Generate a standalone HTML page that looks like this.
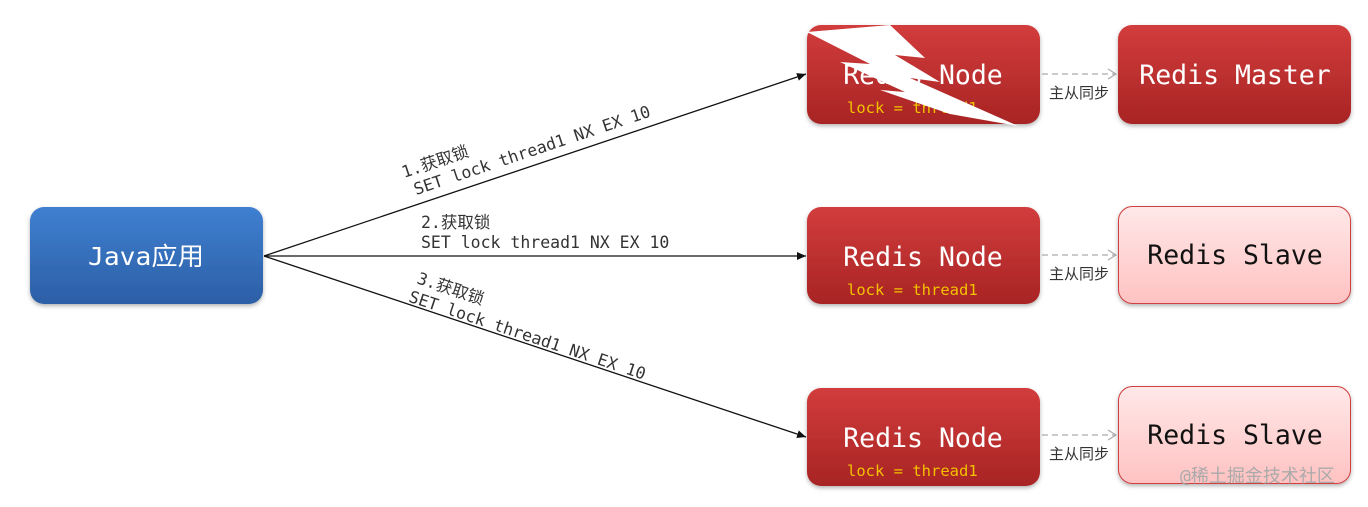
<!DOCTYPE html>
<html><head><meta charset="utf-8"><style>
body{margin:0;background:#fff;width:1368px;height:502px;overflow:hidden}
svg text{font-family:"DejaVu Sans Mono","Liberation Mono","Noto Sans CJK SC",monospace}
</style></head><body>
<svg width="1368" height="502" viewBox="0 0 1368 502" xmlns="http://www.w3.org/2000/svg">
<defs>
<linearGradient id="b" x1="0" y1="0" x2="0" y2="1"><stop offset="0" stop-color="#3f7fd0"/><stop offset="1" stop-color="#2c5fa6"/></linearGradient>
<linearGradient id="r" x1="0" y1="0" x2="0" y2="1"><stop offset="0" stop-color="#d23c3c"/><stop offset="1" stop-color="#a82424"/></linearGradient>
<linearGradient id="p" x1="0" y1="0" x2="0" y2="1"><stop offset="0" stop-color="#ffe8e8"/><stop offset="1" stop-color="#ffc2c2"/></linearGradient>
<filter id="s" x="-10%" y="-10%" width="120%" height="130%"><feDropShadow dx="0" dy="2" stdDeviation="2" flood-opacity="0.3"/></filter>
<marker id="a" markerWidth="10" markerHeight="10" refX="9" refY="5" orient="auto" markerUnits="userSpaceOnUse"><path d="M0,1 L9,5 L0,9 z" fill="#111"/></marker>
<marker id="o" markerWidth="12" markerHeight="12" refX="10" refY="6" orient="auto" markerUnits="userSpaceOnUse"><path d="M2,1 L10,6 L2,11" fill="none" stroke="#aaa" stroke-width="1.2"/></marker>
</defs>
<rect x="30" y="207" width="233" height="97" rx="14" fill="url(#b)" filter="url(#s)"/>
<text x="146" y="265" text-anchor="middle" font-size="25" fill="#fff" textLength="116" lengthAdjust="spacingAndGlyphs">Java应用</text>

<g stroke="#111" stroke-width="1.3">
<line x1="264" y1="256" x2="806" y2="74" marker-end="url(#a)"/>
<line x1="264" y1="256" x2="806" y2="256" marker-end="url(#a)"/>
<line x1="264" y1="256" x2="806" y2="437" marker-end="url(#a)"/>
</g>
<g font-size="16.5" fill="#333">
<g transform="translate(404,178) rotate(-18.5)"><text x="0" y="0">1.获取锁</text><text x="6" y="20">SET lock thread1 NX EX 10</text></g>
<text x="421" y="228">2.获取锁</text><text x="421" y="248">SET lock thread1 NX EX 10</text>
<g transform="translate(416,283) rotate(18.4)"><text x="0" y="0">3.获取锁</text><text x="-2" y="20">SET lock thread1 NX EX 10</text></g>
</g>

<g filter="url(#s)">
<rect x="807" y="25" width="233" height="99" rx="14" fill="url(#r)"/>
<rect x="807" y="207" width="233" height="97" rx="14" fill="url(#r)"/>
<rect x="807" y="388" width="233" height="98" rx="14" fill="url(#r)"/>
<rect x="1118" y="25" width="233" height="99" rx="14" fill="url(#r)"/>
<rect x="1118.5" y="206.5" width="232" height="97" rx="14" fill="url(#p)" stroke="#d04040"/>
<rect x="1118.5" y="386.5" width="232" height="97" rx="14" fill="url(#p)" stroke="#d04040"/>
</g>
<g font-size="26.5" fill="#fff" text-anchor="middle">
<text x="923" y="84">Redis Node</text>
<text x="923" y="266">Redis Node</text>
<text x="923" y="447">Redis Node</text>
<text x="1235" y="84">Redis Master</text>
</g>
<g font-size="26.5" fill="#111" text-anchor="middle">
<text x="1235" y="264">Redis Slave</text>
<text x="1235" y="444">Redis Slave</text>
</g>
<g font-size="15.5" fill="#f2c200">
<text x="847" y="113">lock = thread1</text>
<text x="847" y="295">lock = thread1</text>
<text x="847" y="476">lock = thread1</text>
</g>
<polygon points="807,32 890,25 925,58 895,55 940,82 910,78 1018,126 950,114 880,90 905,92 840,62 870,64" fill="#fff"/>
<g stroke="#aaa" stroke-width="1.2" stroke-dasharray="6,4">
<line x1="1042" y1="74" x2="1116" y2="74" marker-end="url(#o)"/>
<line x1="1042" y1="255" x2="1116" y2="255" marker-end="url(#o)"/>
<line x1="1042" y1="435" x2="1116" y2="435" marker-end="url(#o)"/>
</g>
<g font-size="15" fill="#333" font-family="Noto Sans CJK SC,sans-serif">
<text x="1049" y="98">主从同步</text>
<text x="1049" y="279">主从同步</text>
<text x="1049" y="459">主从同步</text>
</g>
<text x="1180" y="482" font-size="18" fill="#aaa" font-family="Noto Sans CJK SC,sans-serif">@稀土掘金技术社区</text>
</svg>
</body></html>
